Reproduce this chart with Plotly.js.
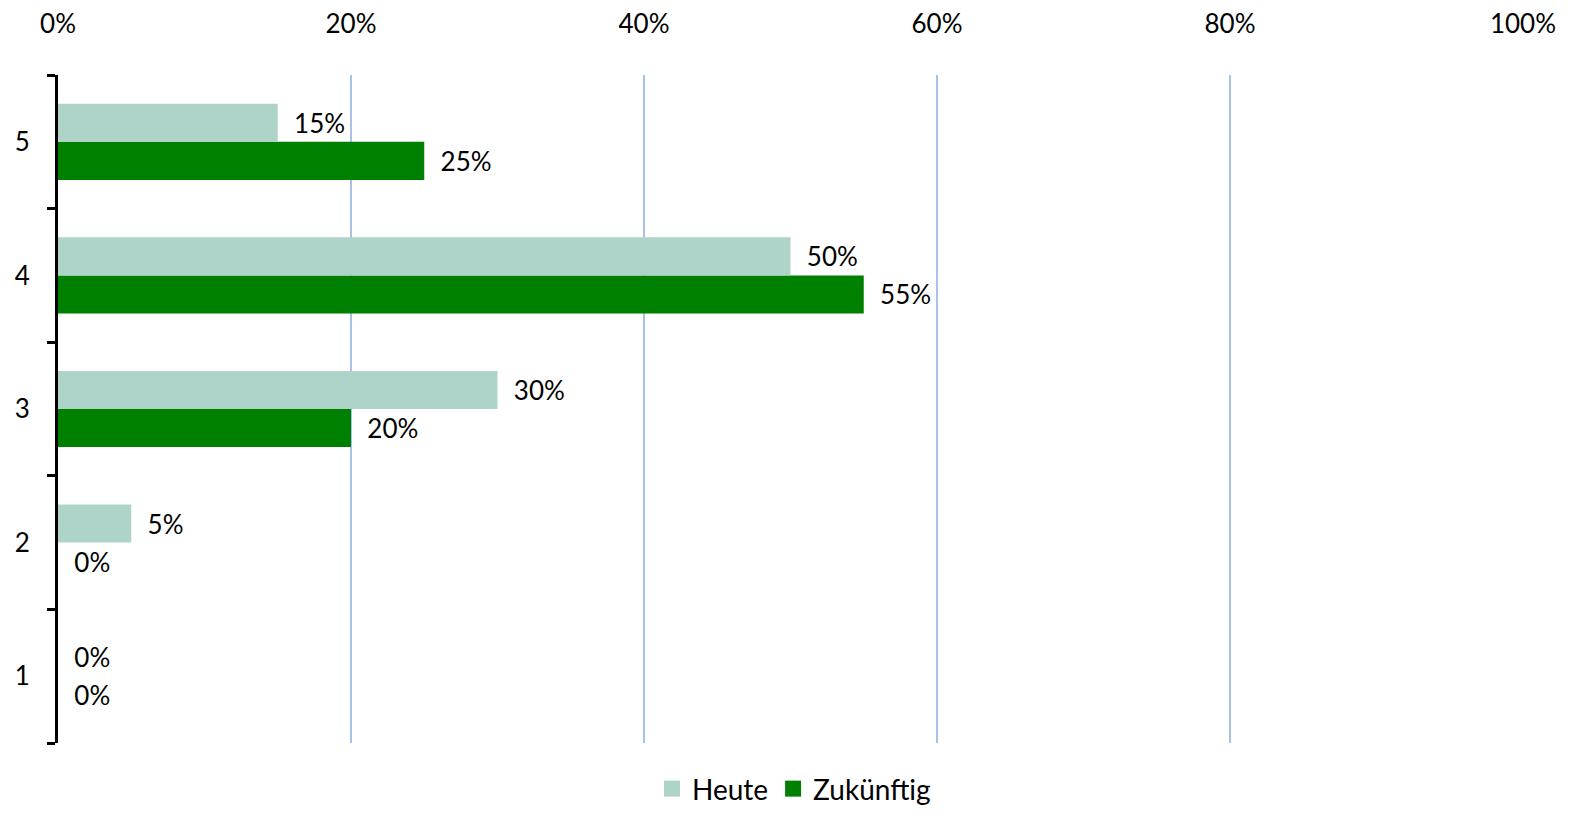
<!DOCTYPE html>
<html>
<head>
<meta charset="utf-8">
<script src="https://cdn.plot.ly/plotly-3.0.1.min.js"></script>
<style>html,body{margin:0;padding:0;background:#fff;overflow:hidden;width:1588px;height:815px;}#chart{width:1588px;height:815px;}</style>
</head>
<body>
<div id="chart"></div>
<script>
const categories = ['1', '2', '3', '4', '5'];
const heute = [0, 5, 30, 50, 15];
const zukuenftig = [0, 0, 20, 55, 25];
const xTicks = [0, 20, 40, 60, 80, 100];
const xTickLabels = ['0%', '20%', '40%', '60%', '80%', '100%'];
const seriesNames = ['Heute', 'Zukünftig'];
const seriesColors = ['#aed3c8', '#008000'];

const FONT = 'Lato, "Open Sans", sans-serif';
const pad = '\u00a0\u00a0';

const traces = [
  {
    type: 'bar', orientation: 'h', name: seriesNames[1], showlegend: false,
    y: categories, x: zukuenftig,
    marker: {color: seriesColors[1], line: {width: 0}},
    text: zukuenftig.map(v => pad + v + '%'),
    textposition: 'outside', cliponaxis: false,
    textfont: {family: FONT, size: 26, color: '#000'},
    hoverinfo: 'none'
  },
  {
    type: 'bar', orientation: 'h', name: seriesNames[0], showlegend: false,
    y: categories, x: heute,
    marker: {color: seriesColors[0], line: {width: 0}},
    text: heute.map(v => pad + v + '%'),
    textposition: 'outside', cliponaxis: false,
    textfont: {family: FONT, size: 26, color: '#000'},
    hoverinfo: 'none'
  }
];
// legend-only entries (no data) to get larger square swatches
seriesNames.forEach((n, i) => {
  traces.push({
    type: 'scatter', mode: 'markers', name: n, x: [null], y: [null],
    marker: {symbol: 'square', size: 16, color: seriesColors[i], line: {width: 0}},
    hoverinfo: 'none', showlegend: true
  });
});

const layout = {
  width: 1588, height: 815,
  margin: {l: 58, r: 65, t: 75, b: 72, pad: 0, autoexpand: false},
  paper_bgcolor: '#fff', plot_bgcolor: '#fff',
  font: {family: FONT, size: 26, color: '#000'},
  barmode: 'group', bargap: 0.43, bargroupgap: 0,
  showlegend: true,
  legend: {
    orientation: 'h', traceorder: 'normal', itemsizing: 'trace',
    x: 0.5, xanchor: 'center', xref: 'container',
    y: 0.032, yanchor: 'middle', yref: 'container',
    font: {family: FONT, size: 28, color: '#000'}
  },
  xaxis: {
    side: 'top', range: [0, 100], tickvals: xTicks, ticktext: xTickLabels,
    showgrid: true, gridcolor: '#a9c0e8', gridwidth: 1.5,
    zeroline: false, showline: false, ticks: '',
    ticklabelstandoff: 36, automargin: false,
    tickfont: {family: FONT, size: 26, color: '#000'},
    fixedrange: true
  },
  yaxis: {
    type: 'category', categoryorder: 'array', categoryarray: categories,
    showline: true, linecolor: '#000', linewidth: 3,
    ticks: 'outside', tickson: 'boundaries', ticklen: 8, tickwidth: 3, tickcolor: '#000',
    showgrid: false, zeroline: false,
    ticklabelstandoff: 20, automargin: false,
    tickfont: {family: FONT, size: 26, color: '#000'},
    fixedrange: true
  }
};

Plotly.newPlot('chart', traces, layout, {displayModeBar: false, staticPlot: true});
</script>
</body>
</html>
